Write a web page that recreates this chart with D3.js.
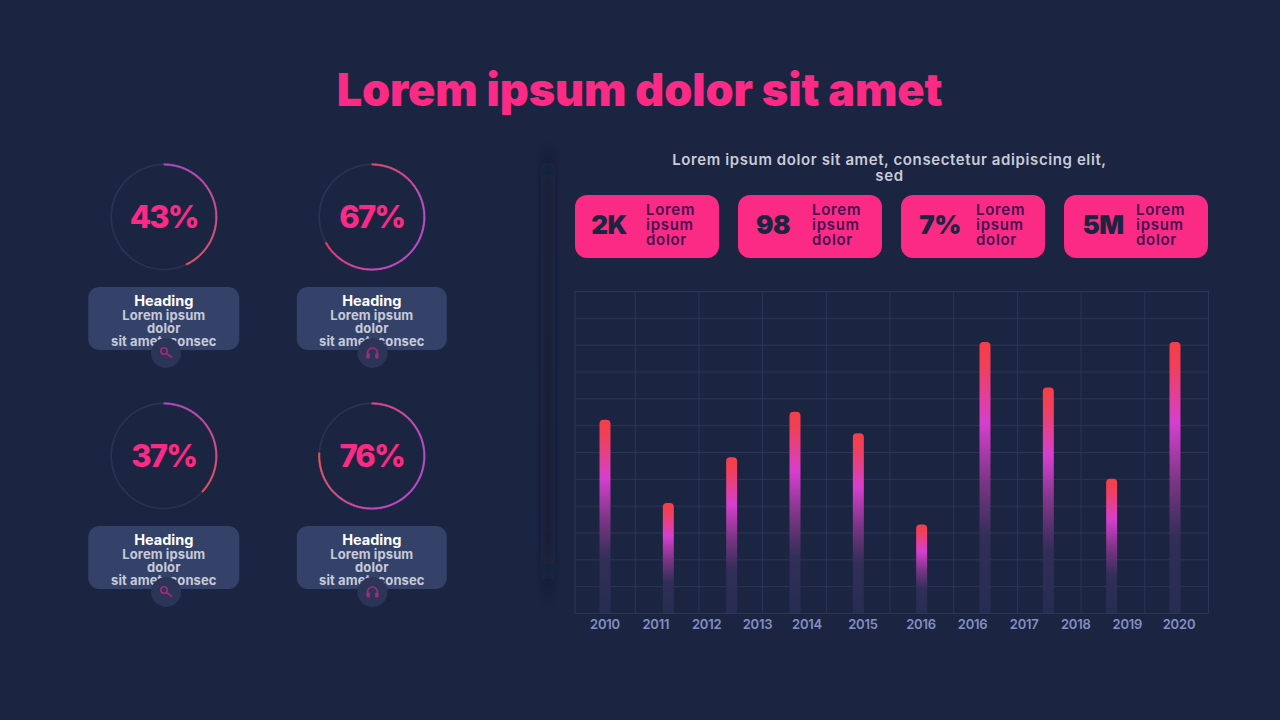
<!DOCTYPE html>
<html>
<head>
<meta charset="utf-8">
<title>Lorem ipsum dolor sit amet</title>
<script src="https://cdn.jsdelivr.net/npm/d3@7"></script>
<style>
  html, body { margin: 0; padding: 0; background: #1b2441; }
  svg { display: block; font-family: Inter, "Noto Sans", sans-serif; }
</style>
</head>
<body>
<div id="chart"></div>
<script>
// data
const ringValues = [43, 67, 37, 76];
const ringHeadings = ["Heading", "Heading", "Heading", "Heading"];
const ringLines = ["Lorem ipsum", "dolor", "sit amet, consec"];
const ringIcons = ["search", "headphones", "search", "headphones"];

const kpiValues = ["2K", "98", "7%", "5M"];
const kpiLines = ["Lorem", "ipsum", "dolor"];

const barSlots = d3.range(10);
const barValues = [72, 41, 58, 75, 67, 33, 101, 84, 50, 101];
const tickLabels = ["2010", "2011", "2012", "2013", "2014", "2015", "2016", "2016", "2017", "2018", "2019", "2020"];

const titleText = "Lorem ipsum dolor sit amet";
const subLines = ["Lorem ipsum dolor sit amet, consectetur adipiscing elit,", "sed"];

// colours along each ring, start to end
const ringStops = [
  ["#b04cc8", "#d24f9a", "#ee5558"],
  ["#ea4f66", "#c04fd2", "#c44fc4", "#f0406c"],
  ["#b04cc8", "#d24f9a", "#ee5558"],
  ["#e84a84", "#b850d4", "#d04ac0", "#f05a50"]
];

const width = 1280, height = 720;
const pink = "#fb2a85", navy = "#1b2441";

const svg = d3.select("#chart").append("svg")
    .attr("width", width)
    .attr("height", height)
    .attr("viewBox", [0, 0, width, height]);

const defs = svg.append("defs");

const barGrad = defs.append("linearGradient")
    .attr("id", "barGrad")
    .attr("x1", 0).attr("x2", 0).attr("y1", 0).attr("y2", 1);
barGrad.selectAll("stop")
  .data([[0, "#f63e48"], [0.08, "#f23f58"], [0.3, "#d63fce"], [0.52, "#7a3584"], [0.72, "#322e58"], [1, "#262d52"]])
  .join("stop")
    .attr("offset", d => d[0])
    .attr("stop-color", d => d[1]);

const bandGrad = defs.append("linearGradient")
    .attr("id", "bandGrad")
    .attr("x1", 0).attr("x2", 0).attr("y1", 0).attr("y2", 1);
bandGrad.selectAll("stop")
  .data([[0, 0], [0.1, 0.4], [0.85, 0.45], [1, 0]])
  .join("stop")
    .attr("offset", d => d[0])
    .attr("stop-color", "#131a30")
    .attr("stop-opacity", d => d[1]);

defs.append("filter").attr("id", "soft")
    .attr("x", "-100%").attr("width", "300%")
  .append("feGaussianBlur").attr("stdDeviation", 3);

// title
svg.append("text")
    .attr("x", 639.5)
    .attr("y", 106)
    .attr("text-anchor", "middle")
    .attr("font-size", 45)
    .attr("font-weight", 900)
    .attr("letter-spacing", -0.1)
    .attr("fill", pink)
    .text(titleText);

// shadow strip between the two halves
svg.append("rect")
    .attr("x", 541).attr("y", 140)
    .attr("width", 14).attr("height", 470)
    .attr("fill", "url(#bandGrad)")
    .attr("filter", "url(#soft)");

// rings
const ringX = d3.scalePoint().domain([0, 1]).range([163.8, 371.8]);
const ringY = d3.scalePoint().domain([0, 1]).range([217, 456]);
const turn = d3.scaleLinear().domain([0, 100]).range([0, 2 * Math.PI]);
const ringArc = d3.arc().innerRadius(51.7).outerRadius(53.4);

const panels = svg.selectAll("g.panel")
  .data(ringValues.map((value, i) => ({ value, i, heading: ringHeadings[i], icon: ringIcons[i] })))
  .join("g")
    .attr("class", "panel")
    .attr("transform", d => `translate(${ringX(d.i % 2)},${ringY(Math.floor(d.i / 2))})`);

panels.append("path")
    .attr("fill", "#2b3353")
    .attr("d", ringArc({ startAngle: 0, endAngle: 2 * Math.PI }));

// the ring gradient follows the angle, so it is cut into short pieces
panels.each(function (d) {
  const colour = d3.scaleLinear()
      .domain(d3.quantize(t => t, ringStops[d.i].length))
      .range(ringStops[d.i])
      .interpolate(d3.interpolateRgb);
  const pieces = d3.range(d.value * 2);
  d3.select(this).append("g").selectAll("path")
    .data(pieces)
    .join("path")
      .attr("fill", p => colour(p / pieces.length))
      .attr("stroke", p => colour(p / pieces.length))
      .attr("stroke-width", 0.3)
      .attr("d", p => ringArc({ startAngle: turn(p / 2), endAngle: turn((p + 1) / 2) }));
});

panels.append("text")
    .attr("y", 11)
    .attr("text-anchor", "middle")
    .attr("font-size", 31)
    .attr("font-weight", 800)
    .attr("letter-spacing", -1.8)
    .attr("fill", pink)
    .text(d => d.value + "%");

panels.append("rect")
    .attr("x", d => d.i % 2 ? -75 : -75.5)
    .attr("y", 70)
    .attr("width", d => d.i % 2 ? 150 : 151)
    .attr("height", 63)
    .attr("rx", 11)
    .attr("fill", "#344269");

panels.append("text")
    .attr("y", 89)
    .attr("text-anchor", "middle")
    .attr("font-size", 14.5)
    .attr("font-weight", 700)
    .attr("fill", "#ffffff")
    .text(d => d.heading);

panels.selectAll("text.line")
  .data(ringLines)
  .join("text")
    .attr("class", "line")
    .attr("y", (d, i) => 103 + i * 13)
    .attr("text-anchor", "middle")
    .attr("font-size", 13)
    .attr("font-weight", 700)
    .attr("letter-spacing", 0.1)
    .attr("fill", "#c6cad9")
    .text(d => d);

const icon = panels.append("g")
    .attr("transform", d => `translate(${d.i % 2 ? 0.7 : 2.2},136)`);

icon.append("circle")
    .attr("r", 15)
    .attr("fill", "#2c3558");

icon.filter(d => d.icon === "search").call(g => {
  g.append("circle")
      .attr("cx", -2).attr("cy", -2).attr("r", 3.2)
      .attr("fill", "none").attr("stroke", "#a52a78").attr("stroke-width", 1.6);
  g.append("path")
      .attr("d", "M0.5,0.5L6,4.5")
      .attr("stroke", "#a52a78").attr("stroke-width", 1.8);
});

icon.filter(d => d.icon === "headphones").call(g => {
  g.append("path")
      .attr("d", "M-5,3V0A5,5 0 0 1 5,0V3")
      .attr("fill", "none").attr("stroke", "#a52a78").attr("stroke-width", 1.6);
  g.append("rect").attr("x", -6).attr("y", 0.5).attr("width", 3.4).attr("height", 5).attr("rx", 1.2).attr("fill", "#a52a78");
  g.append("rect").attr("x", 2.6).attr("y", 0.5).attr("width", 3.4).attr("height", 5).attr("rx", 1.2).attr("fill", "#a52a78");
});

// sub heading
svg.selectAll("text.sub")
  .data(subLines)
  .join("text")
    .attr("class", "sub")
    .attr("x", 889.5)
    .attr("y", (d, i) => 165 + i * 15.5)
    .attr("text-anchor", "middle")
    .attr("font-size", 15)
    .attr("font-weight", 600)
    .attr("letter-spacing", 0.6)
    .attr("fill", "#c8ccd9")
    .text(d => d);

// kpi boxes
const kpiX = d3.scaleBand().domain(d3.range(kpiValues.length)).range([575, 1208]).paddingInner(0.1166);
const kpiValueX = [34, 35, 39, 39];
const kpiTextX = [71, 74, 75, 72];

const kpi = svg.selectAll("g.kpi")
  .data(kpiValues)
  .join("g")
    .attr("class", "kpi")
    .attr("transform", (d, i) => `translate(${kpiX(i)},195)`);

kpi.append("rect")
    .attr("width", kpiX.bandwidth())
    .attr("height", 63)
    .attr("rx", 12)
    .attr("fill", pink);

kpi.append("text")
    .attr("x", (d, i) => kpiValueX[i])
    .attr("y", 38.5)
    .attr("text-anchor", "middle")
    .attr("font-size", 26)
    .attr("font-weight", 900)
    .attr("letter-spacing", -0.5)
    .attr("fill", navy)
    .text(d => d);

kpi.each(function (d, i) {
  d3.select(this).selectAll("text.small")
    .data(kpiLines)
    .join("text")
      .attr("class", "small")
      .attr("x", kpiTextX[i])
      .attr("y", (t, j) => 19.5 + j * 15.3)
      .attr("font-size", 15)
      .attr("font-weight", 600)
      .attr("letter-spacing", 0.7)
      .attr("fill", "#45104f")
      .text(t => t);
});

// bar chart
const plot = { left: 575, right: 1208, top: 291, bottom: 613 };
const y = d3.scaleLinear().domain([0, 120]).range([plot.bottom, plot.top]);
const x = d3.scalePoint().domain(barSlots).range([605, 1175]);
const barWidth = 11;
const gridX = d3.scaleLinear().domain([0, 10]).range([571, 1208]);
const gridColour = "#2d3655";

svg.append("g")
    .attr("transform", `translate(${plot.left},0)`)
    .call(d3.axisLeft(y).tickValues(d3.range(0, 121, 10)).tickSize(-(plot.right - plot.left)).tickFormat(""))
    .call(g => g.select(".domain").remove())
    .call(g => g.selectAll("line").attr("stroke", gridColour));

svg.append("g")
    .attr("transform", `translate(0,${plot.bottom})`)
    .call(d3.axisBottom(gridX).tickValues(d3.range(1, 11)).tickSize(-(plot.bottom - plot.top)).tickFormat(""))
    .call(g => g.select(".domain").remove())
    .call(g => g.selectAll("line").attr("stroke", gridColour));

svg.append("line")
    .attr("x1", plot.left).attr("x2", plot.left)
    .attr("y1", plot.top).attr("y2", plot.bottom)
    .attr("stroke", gridColour);

const barPath = (d, i) => {
  const x0 = x(i) - barWidth / 2, r = 4, top = y(d);
  const p = d3.path();
  p.moveTo(x0, plot.bottom);
  p.lineTo(x0, top + r);
  p.quadraticCurveTo(x0, top, x0 + r, top);
  p.lineTo(x0 + barWidth - r, top);
  p.quadraticCurveTo(x0 + barWidth, top, x0 + barWidth, top + r);
  p.lineTo(x0 + barWidth, plot.bottom);
  p.closePath();
  return p.toString();
};

svg.append("g").selectAll("path")
  .data(barValues)
  .join("path")
    .attr("fill", "url(#barGrad)")
    .attr("d", barPath);

// the year labels sit on their own uneven spacing, not under the bars
const tickX = d3.scaleLinear()
    .domain([0, 3, 4, 5, 6, 11])
    .range([605, 757.5, 807, 863, 921, 1179]);

svg.append("g").selectAll("text")
  .data(tickLabels)
  .join("text")
    .attr("x", (d, i) => tickX(i))
    .attr("y", 629)
    .attr("text-anchor", "middle")
    .attr("font-size", 13)
    .attr("font-weight", 600)
    .attr("letter-spacing", -0.2)
    .attr("fill", "#8290c4")
    .text(d => d);
</script>
</body>
</html>
